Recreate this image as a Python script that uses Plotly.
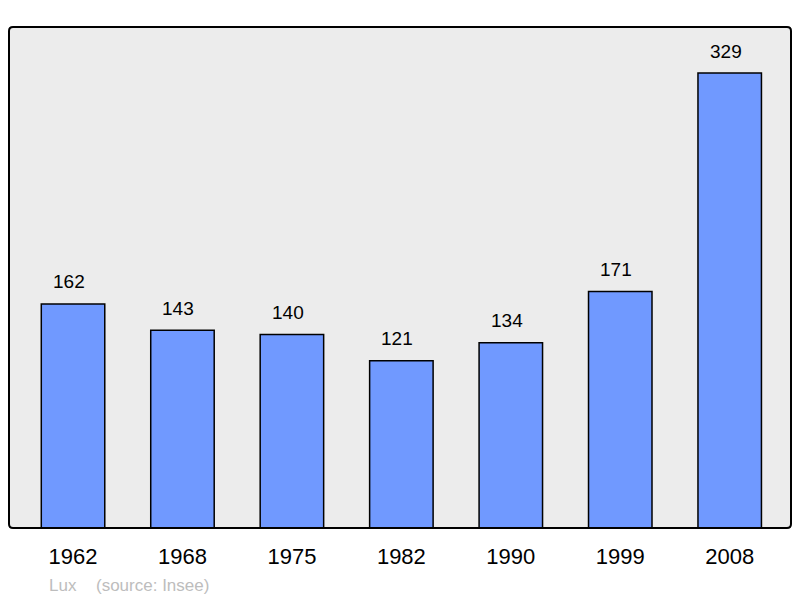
import plotly.graph_objects as go

years = ["1962", "1968", "1975", "1982", "1990", "1999", "2008"]
population = [162, 143, 140, 121, 134, 171, 329]

# the page body has an 8px margin, so compensate
OFF = 8
W, H = 800 - OFF, 598 - OFF
ml, mr, mt, mb = 9 - OFF, 9, 27 - OFF, 70
PW, PH = W - ml - mr, H - mt - mb

fig = go.Figure()
fig.add_trace(go.Bar(
    x=list(range(len(years))), y=population,
    width=0.58,
    marker=dict(color="#7099ff", line=dict(color="#000000", width=1.5)),
    hoverinfo="skip",
))

for i, v in enumerate(population):
    fig.add_annotation(x=i, y=v, text=str(v), showarrow=False, yshift=22, xshift=-4,
                       font=dict(family="Liberation Sans, Arial", size=19, color="#000000"))

src_font = dict(family="Liberation Sans, Arial", size=17, color="#bdbdbd")
for txt, px in [("Lux", 47), ("(source: Insee)", 94)]:
    fig.add_annotation(xref="paper", yref="paper", x=(px - 9) / PW, y=-(585 - 528) / PH,
                       xanchor="left", yanchor="middle", showarrow=False,
                       text=txt, font=src_font)

# rounded border
rx, ry = 4 / PW, 4 / PH
path = (f"M {rx},0 L {1-rx},0 Q 1,0 1,{ry} L 1,{1-ry} Q 1,1 {1-rx},1 "
        f"L {rx},1 Q 0,1 0,{1-ry} L 0,{ry} Q 0,0 {rx},0 Z")
fig.add_shape(type="path", xref="paper", yref="paper", path=path,
              line=dict(color="#000000", width=2), layer="above")

fig.update_layout(
    width=W, height=H,
    margin=dict(l=ml, r=mr, t=mt, b=mb),
    paper_bgcolor="#ffffff", plot_bgcolor="#ececec",
    showlegend=False,
    xaxis=dict(range=[-0.585, 6.56], showgrid=False, zeroline=False,
               tickmode="array", tickvals=list(range(len(years))), ticktext=years,
               ticks="outside", ticklen=9, tickcolor="rgba(0,0,0,0)",
               tickfont=dict(family="Liberation Sans, Arial", size=22, color="#000000"),
               fixedrange=True),
    yaxis=dict(range=[0, 362.3], showgrid=False, zeroline=False, showticklabels=False,
               fixedrange=True),
)

fig.write_html("out.html")
